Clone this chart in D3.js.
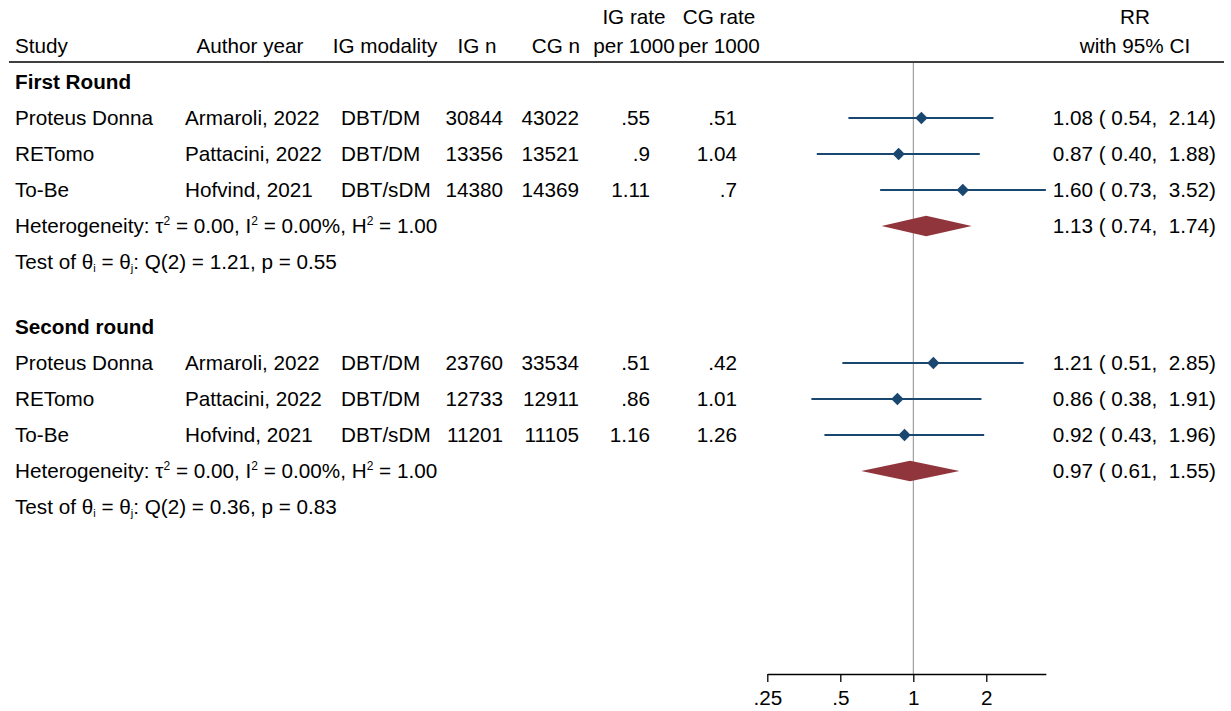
<!DOCTYPE html>
<html>
<head>
<meta charset="utf-8">
<script src="https://cdn.jsdelivr.net/npm/d3@7"></script>
<style>
  html, body { margin: 0; padding: 0; background: #fff; }
  svg text { font-family: "Liberation Sans", Arial, sans-serif; white-space: pre; }
</style>
</head>
<body>
<svg id="chart" width="1231" height="711"></svg>
<script>
// ---------- data ----------
const studies   = ["Proteus Donna", "RETomo", "To-Be"];
const authors   = ["Armaroli, 2022", "Pattacini, 2022", "Hofvind, 2021"];
const modality  = ["DBT/DM", "DBT/DM", "DBT/sDM"];
const groupNames = ["First Round", "Second round"];

const igN1    = [30844, 13356, 14380];
const cgN1    = [43022, 13521, 14369];
const igRate1 = [0.55, 0.9, 1.11];
const cgRate1 = [0.51, 1.04, 0.7];
const rr1     = [1.08, 0.87, 1.60];
const lo1     = [0.54, 0.40, 0.73];
const hi1     = [2.14, 1.88, 3.52];
const pooled1 = [1.13, 0.74, 1.74];
const het1    = { tau2: "0.00", i2: "0.00%", h2: "1.00", q: "1.21", p: "0.55" };

const igN2    = [23760, 12733, 11201];
const cgN2    = [33534, 12911, 11105];
const igRate2 = [0.51, 0.86, 1.16];
const cgRate2 = [0.42, 1.01, 1.26];
const rr2     = [1.21, 0.86, 0.92];
const lo2     = [0.51, 0.38, 0.43];
const hi2     = [2.85, 1.91, 1.96];
const pooled2 = [0.97, 0.61, 1.55];
const het2    = { tau2: "0.00", i2: "0.00%", h2: "1.00", q: "0.36", p: "0.83" };

const tickValues = [0.25, 0.5, 1, 2];
const tickLabels = [".25", ".5", "1", "2"];

// ---------- layout ----------
const svg = d3.select("#chart");
const FS = 20.7;
const navy = "#1a476f";
const maroon = "#90353b";

const allHi = d3.max(hi1.concat(hi2));
const x = d3.scaleLog().domain([0.25, allHi])
  .range([767.3, 767.3 + 73 * Math.log2(allHi / 0.25)]);

const blocks = [
  { name: groupNames[0], top: 82, igN: igN1, cgN: cgN1, igR: igRate1, cgR: cgRate1, rr: rr1, lo: lo1, hi: hi1, pooled: pooled1, het: het1 },
  { name: groupNames[1], top: 327, igN: igN2, cgN: cgN2, igR: igRate2, cgR: cgRate2, rr: rr2, lo: lo2, hi: hi2, pooled: pooled2, het: het2 }
];
const rowStep = 36;

const fmt2 = d3.format(".2f");
const rateFmt = v => String(v).replace(/^0\./, ".");

function txt(xp, yp, s, anchor, weight) {
  return svg.append("text")
    .attr("x", xp).attr("y", yp).attr("dy", 7.2)
    .attr("text-anchor", anchor || "start")
    .attr("font-size", FS)
    .attr("font-weight", weight || "normal")
    .attr("fill", "#000")
    .attr("xml:space", "preserve")
    .text(s);
}

// header
const hY1 = 17, hY2 = 46;
txt(15, hY2, "Study");
txt(250, hY2, "Author year", "middle");
txt(385, hY2, "IG modality", "middle");
txt(477, hY2, "IG n", "middle");
txt(556, hY2, "CG n", "middle");
txt(634, hY1, "IG rate", "middle");
txt(634, hY2, "per 1000", "middle");
txt(719, hY1, "CG rate", "middle");
txt(719, hY2, "per 1000", "middle");
txt(1135, hY1, "RR", "middle");
txt(1135, hY2, "with 95% CI", "middle");

svg.append("line")
  .attr("x1", 9).attr("x2", 1224).attr("y1", 62).attr("y2", 62)
  .attr("stroke", "#000").attr("stroke-width", 1.5);

const axisY = 674;

// null line
svg.append("line")
  .attr("x1", x(1)).attr("x2", x(1)).attr("y1", 63).attr("y2", axisY)
  .attr("stroke", "#8c8c8c").attr("stroke-width", 1);

function sup(t, s) {
  t.append("tspan").attr("font-size", 12).attr("dy", -8).text(s);
  return t;
}
function back(t, s, d) {
  t.append("tspan").attr("dy", d).text(s);
  return t;
}

blocks.forEach(b => {
  const y = i => b.top + rowStep * i;
  txt(15, y(0), b.name, "start", "bold");
  studies.forEach((s, i) => {
    const yy = y(i + 1);
    txt(15, yy, s);
    txt(185, yy, authors[i]);
    txt(341, yy, modality[i]);
    txt(503, yy, String(b.igN[i]), "end");
    txt(579, yy, String(b.cgN[i]), "end");
    txt(650, yy, rateFmt(b.igR[i]), "end");
    txt(737, yy, rateFmt(b.cgR[i]), "end");
    txt(1216, yy, `${fmt2(b.rr[i])} ( ${fmt2(b.lo[i])},  ${fmt2(b.hi[i])})`, "end");
    svg.append("line")
      .attr("x1", x(b.lo[i])).attr("x2", x(b.hi[i]))
      .attr("y1", yy).attr("y2", yy)
      .attr("stroke", navy).attr("stroke-width", 2);
    const cx = x(b.rr[i]), h = 6.2;
    svg.append("path")
      .attr("d", `M${cx - h},${yy} L${cx},${yy - h} L${cx + h},${yy} L${cx},${yy + h} Z`)
      .attr("fill", navy);
  });
  // pooled row
  const py = y(4);
  const het = txt(15, py, "Heterogeneity: τ");
  sup(het, "2"); back(het, ` = ${b.het.tau2}, I`, 8);
  sup(het, "2"); back(het, ` = ${b.het.i2}, H`, 8);
  sup(het, "2"); back(het, ` = ${b.het.h2}`, 8);
  const [pm, pl, ph] = b.pooled;
  txt(1216, py, `${fmt2(pm)} ( ${fmt2(pl)},  ${fmt2(ph)})`, "end");
  svg.append("path")
    .attr("d", `M${x(pl)},${py} L${x(pm)},${py - 10.3} L${x(ph)},${py} L${x(pm)},${py + 10.3} Z`)
    .attr("fill", maroon);
  // test row
  const ty = y(5);
  const t = txt(15, ty, "Test of θ");
  t.append("tspan").attr("font-size", 11).attr("dy", 3).text("i");
  back(t, " = θ", -3);
  t.append("tspan").attr("font-size", 11).attr("dy", 3).text("j");
  back(t, `: Q(2) = ${b.het.q}, p = ${b.het.p}`, -3);
});

// axis
const axis = d3.axisBottom(x)
  .tickValues(tickValues)
  .tickFormat((d, i) => tickLabels[i])
  .tickSize(8)
  .tickSizeOuter(0);
const ag = svg.append("g").attr("transform", `translate(0,${axisY})`).call(axis);
ag.select(".domain").attr("stroke", "#000").attr("stroke-width", 1.3);
ag.selectAll(".tick line").attr("stroke", "#000").attr("stroke-width", 1.3);
ag.selectAll(".tick text")
  .attr("font-size", FS)
  .attr("font-family", "Liberation Sans, Arial, sans-serif")
  .attr("fill", "#000")
  .attr("y", 31)
  .attr("dy", 0);
</script>
</body>
</html>
